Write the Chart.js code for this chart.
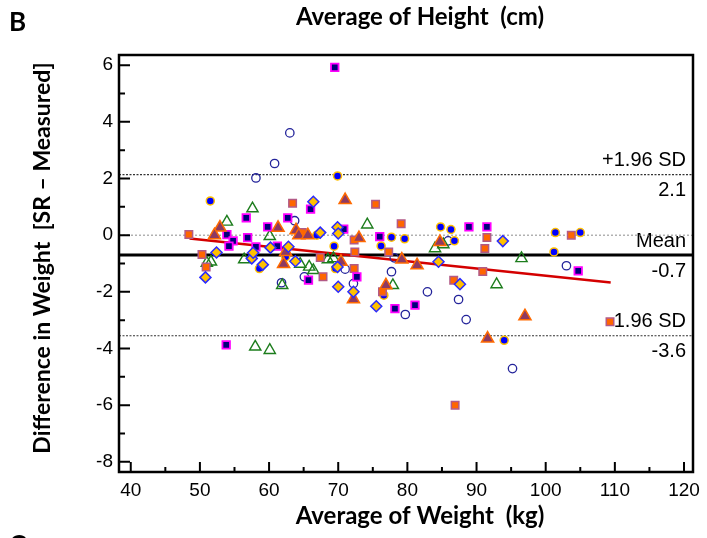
<!DOCTYPE html>
<html>
<head>
<meta charset="utf-8">
<script src="https://cdn.jsdelivr.net/npm/chart.js@4.4.1/dist/chart.umd.min.js"></script>
<style>
  html, body { margin: 0; padding: 0; background: #fff; }
  #wrap { width: 707px; height: 538px; }
</style>
</head>
<body>
<div id="wrap"><canvas id="baChart" width="707" height="538"></canvas></div>
<script>
// Bland-Altman plot: difference in weight (SR - measured) vs average weight

// axis ranges and ticks
const xRange = [38.3, 121.3];
const yRange = [-8.36, 6.36];
const xTicks = [40, 50, 60, 70, 80, 90, 100, 110, 120];
const yTicks = [-8, -6, -4, -2, 0, 2, 4, 6];
const xMinorTicks = [45, 55, 65, 75, 85, 95, 105, 115];
const yMinorTicks = [-7, -5, -3, -1, 1, 3, 5];

// limits of agreement
const meanDiff = -0.7;
const upperLoA = 2.14;
const lowerLoA = -3.55;
const limitLabels = ['+1.96 SD', '2.1', 'Mean', '-0.7', '-1.96 SD', '-3.6'];

// regression line ends [x, y]
const trendLine = [[48.5, -0.12], [109.4, -1.67]];

// point groups [average, difference]
const orangeSquares = [
    [48.4, 0.02], [63.4, 1.13], [75.4, 1.09], [79.1, 0.40], [64.8, 0.09], [72.3, -0.17],
    [50.3, -0.68], [50.9, -1.12], [72.4, -0.59], [77.3, -0.59], [67.4, -0.79], [67.8, -1.47],
    [72.3, -1.18], [76.4, -2.0], [86.7, -1.59], [86.9, -6.0], [90.9, -1.28], [91.5, -0.08],
    [91.2, -0.47], [103.7, 0.0], [109.3, -3.06]
];
const navySquares = [
    [69.5, 5.92], [56.7, 0.61], [62.7, 0.61], [59.8, 0.29], [53.9, 0.02], [54.8, -0.2],
    [54.2, -0.39], [56.9, -0.09], [58.1, -0.41], [61.2, -0.39], [53.8, -3.87], [66.0, 0.92],
    [70.8, 0.21], [76.0, -0.05], [65.7, -1.59], [72.7, -1.47], [78.2, -2.59], [81.1, -2.47],
    [88.9, 0.29], [91.5, 0.29], [104.7, -1.26]
];
const blueCircles = [
    [51.5, 1.21], [69.9, 2.09], [84.8, 0.29], [86.3, 0.2], [66.9, 0.0], [77.7, -0.07],
    [79.6, -0.13], [69.4, -0.39], [76.2, -0.38], [86.8, -0.2], [58.6, -1.18], [62.4, -0.76],
    [69.6, -1.18], [76.6, -2.12], [94.0, -3.71], [101.4, 0.09], [105.0, 0.09], [101.2, -0.59]
];
const openCircles = [
    [63.0, 3.61], [60.8, 2.53], [58.1, 2.02], [63.7, 0.51], [61.8, -1.68], [71.0, -1.2],
    [65.1, -1.47], [72.2, -1.71], [77.7, -1.29], [78.1, -0.8], [85.9, -0.2], [79.7, -2.8],
    [82.9, -2.0], [87.4, -2.27], [88.5, -2.98], [95.2, -4.71], [103.0, -1.08]
];
const greenTriangles = [
    [57.6, 0.94], [53.9, 0.47], [60.1, -0.04], [51.0, -0.98], [51.6, -0.94], [56.4, -0.86],
    [61.9, -1.77], [58.0, -3.94], [60.1, -4.06], [74.2, 0.37], [84.0, -0.47], [85.2, -0.33],
    [64.5, -1.02], [65.8, -1.12], [66.4, -1.24], [68.5, -0.86], [69.3, -0.82], [77.9, -1.77],
    [92.9, -1.74], [96.5, -0.82]
];
const mauveTriangles = [
    [61.3, 0.26], [52.9, 0.27], [52.1, 0.0], [63.9, 0.17], [64.3, 0.0], [65.6, 0.0],
    [71.0, 1.24], [73.0, -0.1], [62.1, -1.02], [62.4, -0.59], [70.4, -0.94], [72.2, -2.26],
    [76.9, -1.77], [79.2, -0.86], [81.4, -1.06], [84.7, -0.24], [97.0, -2.86], [91.6, -3.65]
];
const yellowDiamonds = [
    [66.4, 1.18], [69.9, 0.28], [67.4, 0.09], [70.0, 0.06], [60.2, -0.44], [62.8, -0.41],
    [52.4, -0.61], [50.8, -1.49], [57.5, -0.82], [57.7, -0.62], [59.1, -1.04], [63.8, -0.92],
    [69.9, -1.12], [70.0, -1.82], [72.2, -2.0], [75.5, -2.51], [84.5, -0.94], [87.6, -1.73],
    [93.8, -0.21]
];

function toXY(arr) {
    return arr.map(p => ({ x: p[0], y: p[1] }));
}

function hLine(value) {
    return [{ x: xRange[0], y: value }, { x: xRange[1], y: value }];
}

function pointSet(data, style, radius, fill, stroke, width, order) {
    return {
        type: 'scatter',
        data: toXY(data),
        pointStyle: style,
        pointRadius: radius,
        pointHoverRadius: radius,
        backgroundColor: fill,
        borderColor: stroke,
        borderWidth: width,
        order: order
    };
}

function lineSet(data, color, width, dash, order) {
    return {
        type: 'line',
        data: data,
        borderColor: color,
        borderWidth: width,
        borderDash: dash,
        pointRadius: 0,
        fill: false,
        order: order
    };
}

// frame, inward ticks, titles and limit labels
const decorPlugin = {
    id: 'decor',
    beforeDatasetsDraw(chart) {
        const ctx = chart.ctx;
        const y = chart.scales.y;
        const xr = 686;
        ctx.save();
        ctx.fillStyle = '#000';
        ctx.font = '20px "Liberation Sans", Arial, sans-serif';
        ctx.textAlign = 'right';
        ctx.textBaseline = 'middle';
        const levels = [upperLoA, meanDiff, lowerLoA];
        levels.forEach((v, i) => {
            const py = y.getPixelForValue(v);
            ctx.fillText(limitLabels[i * 2], xr, py - 14);
            ctx.fillText(limitLabels[i * 2 + 1], xr, py + 16);
        });
        ctx.restore();
    },
    afterDraw(chart) {
        const ctx = chart.ctx;
        const a = chart.chartArea;
        const xs = chart.scales.x;
        const ys = chart.scales.y;
        ctx.save();
        ctx.strokeStyle = '#000';
        ctx.lineWidth = 2.5;
        ctx.strokeRect(a.left, a.top, a.right - a.left, a.bottom - a.top);

        ctx.lineWidth = 2;
        ctx.beginPath();
        xTicks.forEach(v => {
            const px = xs.getPixelForValue(v);
            ctx.moveTo(px, a.bottom);
            ctx.lineTo(px, a.bottom - 10);
        });
        xMinorTicks.forEach(v => {
            const px = xs.getPixelForValue(v);
            ctx.moveTo(px, a.bottom);
            ctx.lineTo(px, a.bottom - 5);
        });
        yTicks.forEach(v => {
            const py = ys.getPixelForValue(v);
            ctx.moveTo(a.left, py);
            ctx.lineTo(a.left + 11, py);
        });
        yMinorTicks.forEach(v => {
            const py = ys.getPixelForValue(v);
            ctx.moveTo(a.left, py);
            ctx.lineTo(a.left + 6, py);
        });
        ctx.stroke();

        // titles
        ctx.fillStyle = '#000';
        ctx.textAlign = 'center';
        ctx.textBaseline = 'middle';
        ctx.font = 'bold 24px Lato, "Open Sans", sans-serif';
        ctx.fillText('Average of Height  (cm)', 420, 17);
        ctx.fillText('Average of Weight  (kg)', 420, 516);

        ctx.save();
        ctx.translate(43, 258);
        ctx.rotate(-Math.PI / 2);
        ctx.font = 'bold 23px Lato, "Open Sans", sans-serif';
        ctx.fillText('Difference in Weight  [SR \u2013 Measured]', 0, 0);
        ctx.restore();

        ctx.textAlign = 'left';
        ctx.font = 'bold 26px Lato, "Open Sans", sans-serif';
        ctx.fillText('B', 9, 23);
        ctx.textBaseline = 'alphabetic';
        ctx.fillText('C', 9, 554);
        ctx.restore();
    }
};

document.addEventListener('DOMContentLoaded', function() {
    Chart.defaults.font.family = '"Liberation Sans", Arial, sans-serif';
    Chart.defaults.color = '#000';

    const datasets = [
        lineSet([{ x: trendLine[0][0], y: trendLine[0][1] }, { x: trendLine[1][0], y: trendLine[1][1] }], '#D40000', 2.5, [], 9),
        lineSet(hLine(0), '#8c8c8c', 1, [2, 2], 13),
        lineSet(hLine(upperLoA), '#333', 1.2, [2, 1.5], 12),
        lineSet(hLine(lowerLoA), '#333', 1.2, [2, 1.5], 12),
        lineSet(hLine(meanDiff), '#000', 3, [], 11),
        pointSet(openCircles, 'circle', 4.2, 'rgba(255,255,255,0)', '#23239a', 1.3, 8),
        pointSet(greenTriangles, 'triangle', 6.5, 'rgba(255,255,255,0)', '#1d7d1d', 1.4, 7),
        pointSet(blueCircles, 'circle', 4, '#0000ff', '#ffc000', 1.5, 6),
        pointSet(orangeSquares, 'rect', 5.3, '#ff6600', '#b25a86', 1.5, 5),
        pointSet(navySquares, 'rect', 5.3, '#00007a', '#ff00ff', 1.8, 4),
        pointSet(mauveTriangles, 'triangle', 7, '#8e3a62', '#ff6a00', 1.5, 3),
        pointSet(yellowDiamonds, 'rectRot', 5.5, '#ffc000', '#2a2aff', 1.5, 2)
    ];

    new Chart(document.getElementById('baChart'), {
        type: 'scatter',
        data: { datasets: datasets },
        plugins: [decorPlugin],
        options: {
            responsive: false,
            animation: false,
            devicePixelRatio: 1,
            layout: { padding: { top: 55, right: 9, left: 0, bottom: 0 } },
            plugins: {
                legend: { display: false },
                tooltip: { enabled: false },
                title: { display: false }
            },
            scales: {
                x: {
                    type: 'linear',
                    min: xRange[0],
                    max: xRange[1],
                    grid: { display: false, drawTicks: false },
                    border: { display: false },
                    afterBuildTicks: axis => { axis.ticks = xTicks.map(v => ({ value: v })); },
                    afterFit: axis => { axis.height = 66; },
                    ticks: { padding: 7, font: { size: 19 }, color: '#000', maxRotation: 0 }
                },
                y: {
                    type: 'linear',
                    min: yRange[0],
                    max: yRange[1],
                    grid: { display: false, drawTicks: false },
                    border: { display: false },
                    afterBuildTicks: axis => { axis.ticks = yTicks.map(v => ({ value: v })); },
                    afterFit: axis => { axis.width = 119; },
                    ticks: { padding: 6, font: { size: 19 }, color: '#000' }
                }
            }
        }
    });
});
</script>
</body>
</html>
